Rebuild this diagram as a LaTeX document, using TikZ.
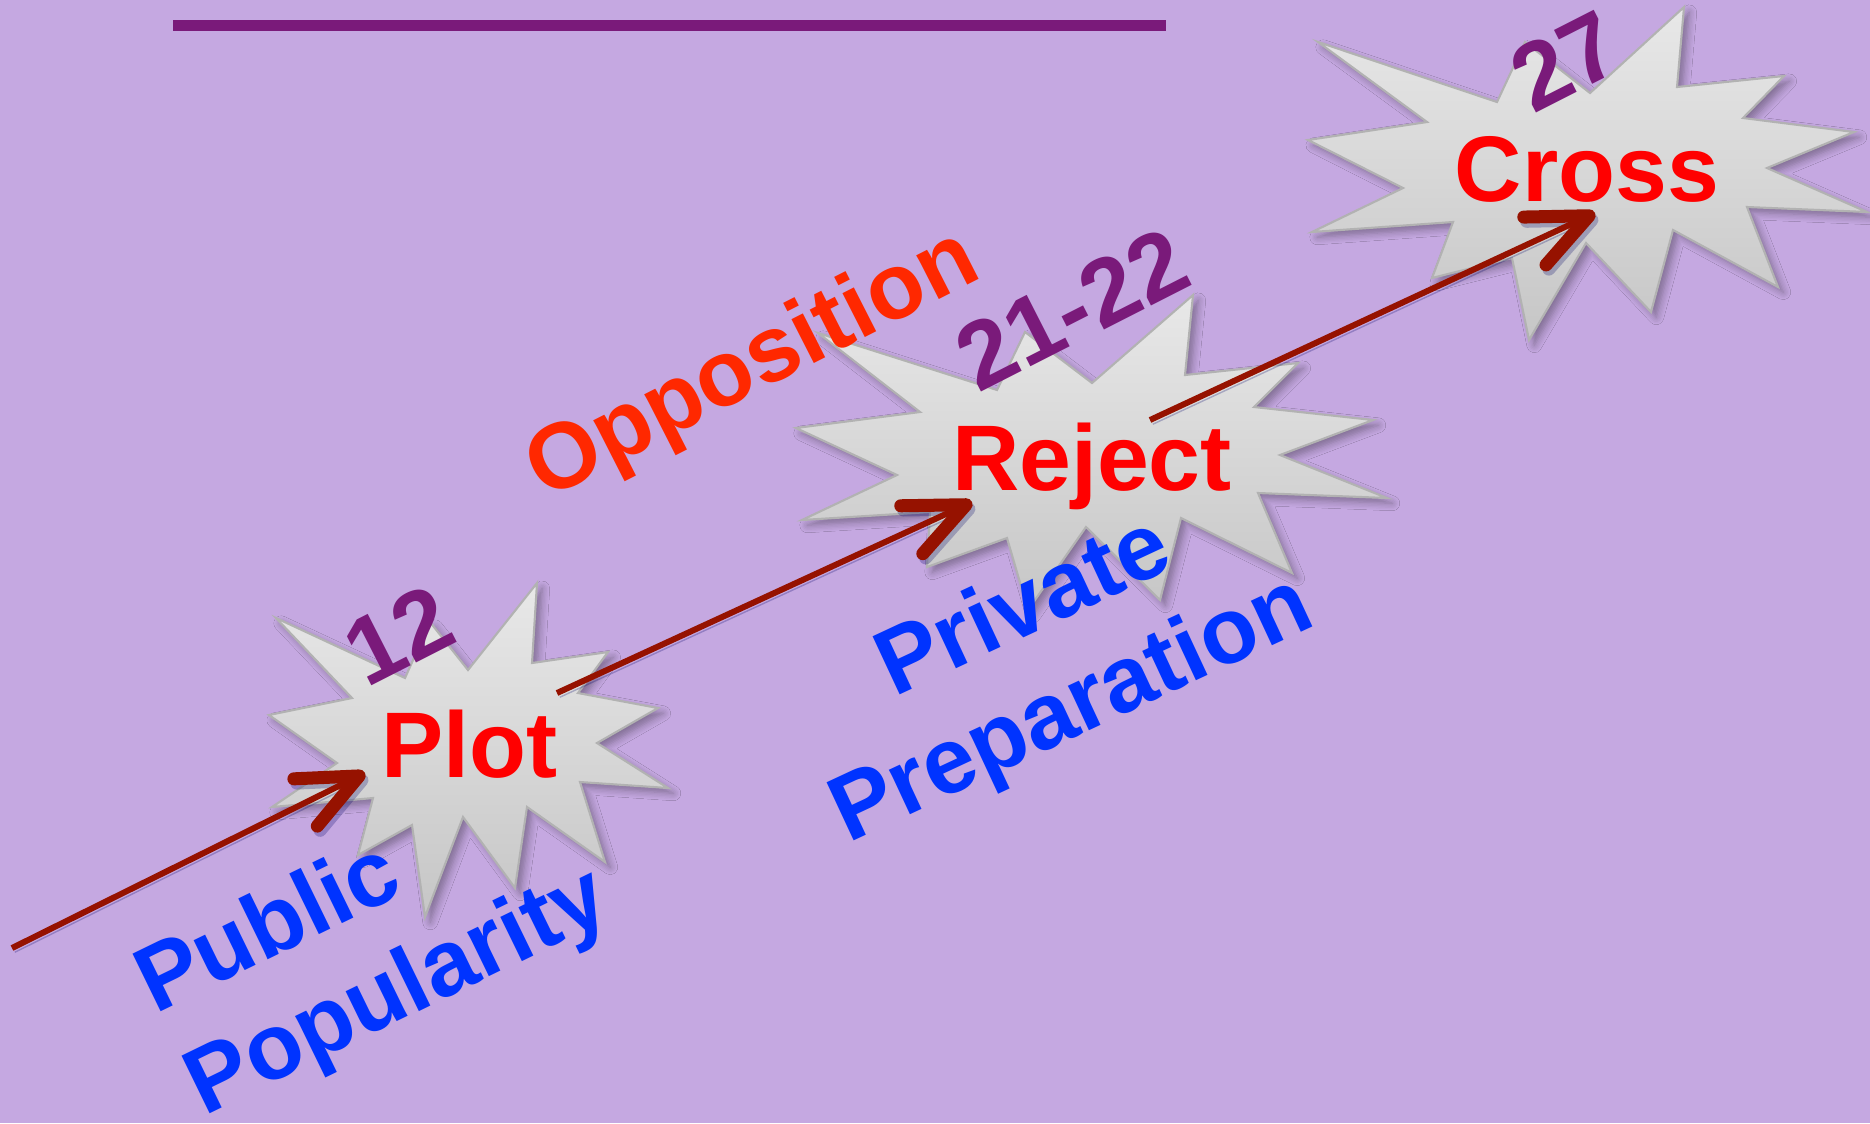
\documentclass[tikz,border=0pt]{standalone}
\usepackage{fontspec}
\setmainfont{Liberation Sans}
\usetikzlibrary{arrows.meta,shadows.blur}
\definecolor{backlilac}{RGB}{197,168,225}
\definecolor{titlepurple}{RGB}{122,26,122}
\definecolor{bursttop}{RGB}{232,232,232}
\definecolor{burstbottom}{RGB}{198,198,198}
\definecolor{burstline}{RGB}{178,178,178}
\definecolor{eventred}{RGB}{255,0,0}
\definecolor{oppred}{RGB}{255,40,0}
\definecolor{phaseblue}{RGB}{0,51,255}
\definecolor{arrowred}{RGB}{150,18,0}

\begin{document}
\begin{tikzpicture}[x=0.01cm,y=-0.01cm,
burst/.style={
	draw=burstline,line width=0.6pt,top color=bursttop,bottom color=burstbottom,
	blur shadow={shadow xshift=1.5pt,shadow yshift=-1.5pt,shadow opacity=35,shadow blur steps=6}},
event/.style={font=\bfseries\fontsize{26.5}{32}\selectfont,text=eventred,inner sep=0pt,anchor=base},
verse/.style={font=\bfseries\fontsize{27}{30}\selectfont,text=titlepurple,inner sep=0pt,rotate=27},
phase/.style={font=\bfseries\fontsize{26.5}{32}\selectfont,inner sep=0pt},
link/.style={draw=arrowred,line width=1.7pt,
	-{Straight Barb[length=17pt,width=15pt,line width=3.7pt,round]},
	preaction={draw=black!60!blue,opacity=0.25,transform canvas={xshift=0.8pt,yshift=-1.2pt}}}
]
\useasboundingbox (0,0) rectangle (1870,1123);
\fill[backlilac] (0,0) rectangle (1870,1123);
% title rule, the title itself is off the top
\fill[titlepurple] (173,20) rectangle (1166,31);

% bursts
\path[burst] (276,618) -- (405,678) -- (430,622) -- (468,670) -- (537,583) -- (532,663)
-- (608,652) -- (578,693) -- (658,708) -- (597,743) -- (668,788) -- (580,782)
-- (605,862) -- (527,807) -- (515,888) -- (463,817) -- (425,917) -- (412,825)
-- (358,855) -- (373,798) -- (272,807) -- (337,763) -- (269,715) -- (352,698) -- cycle;
\path[burst] (818,333) -- (997,390) -- (1025,332) -- (1092,383) -- (1193,295) -- (1185,375)
-- (1298,363) -- (1254,407) -- (1373,420) -- (1280,455) -- (1387,498) -- (1258,493)
-- (1292,573) -- (1181,518) -- (1160,600) -- (1086,527) -- (1028,610) -- (1007,538)
-- (927,567) -- (930,512) -- (802,520) -- (897,475) -- (796,428) -- (920,412) -- cycle;
\path[burst] (1318,42) -- (1497,102) -- (1525,42) -- (1590,93) -- (1684,7) -- (1677,87)
-- (1784,76) -- (1743,118) -- (1854,132) -- (1767,168) -- (1867,212) -- (1747,207)
-- (1778,287) -- (1673,230) -- (1651,312) -- (1586,243) -- (1529,340) -- (1512,258)
-- (1432,278) -- (1453,222) -- (1312,232) -- (1403,188) -- (1308,140) -- (1427,122) -- cycle;

\coordinate (origin) at (12,948);
\coordinate (plot in) at (365,773);
\coordinate (plot out) at (557,693);
\coordinate (reject in) at (972,502);
\coordinate (reject out) at (1150,420);
\coordinate (cross in) at (1595,213);
\draw[link] (origin) -- (plot in);
\draw[link] (plot out) -- (reject in);
\draw[link] (reject out) -- (cross in);

\node[event] (plot) at (469,777) {Plot};
\node[event] (reject) at (1092,490) {Reject};
\node[event] (cross) at (1587,201) {Cross};
\node[verse] (plot verse) at (398,635) {12};
\node[verse] (reject verse) at (1072,309) {21-22};
\node[verse] (cross verse) at (1565,61) {27};
% \node[phase,text=oppred] (opposition) at (754,367) {Opposition};
\node[phase,text=oppred,rotate=27] (opposition) at (754,367) {Opposition};
\node[phase,text=phaseblue,align=left,rotate=26] (public) at (374,944) {Public\\Popularity};
\node[phase,text=phaseblue,align=center,rotate=25] (private) at (1049,661) {Private\\Preparation};
\end{tikzpicture}
\end{document}
